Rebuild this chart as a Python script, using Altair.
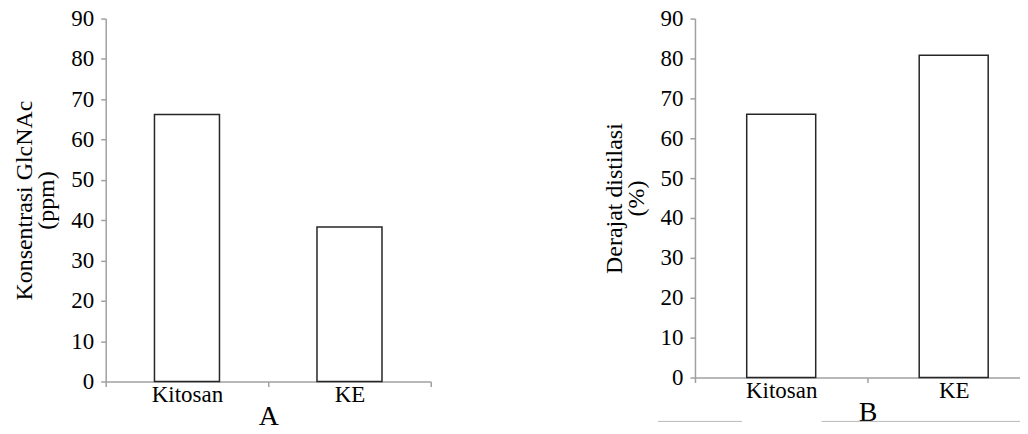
import altair as alt
import pandas as pd

categories = ["Kitosan", "KE"]
glcnac_ppm = [66.2, 38.3]
derajat_pct = [66.0, 80.8]
y_ticks = [0, 10, 20, 30, 40, 50, 60, 70, 80, 90]

FONT = "Liberation Serif"
AXIS_GRAY = "#a0a0a0"


def panel(values, ytitle, xtitle, w, h, extra_layers=None):
    df = pd.DataFrame({"kategori": categories, "nilai": values})
    bars = alt.Chart(df).mark_bar(
        fill="white", stroke="#262626", strokeWidth=1.5,
        width=alt.RelativeBandSize(0.4),
    ).encode(
        x=alt.X(
            "kategori:N", sort=categories,
            scale=alt.Scale(paddingInner=0, paddingOuter=0),
            axis=alt.Axis(
                title=xtitle, labelAngle=0, tickBand="extent",
                labelFont=FONT, titleFont=FONT,
                labelFontSize=23, labelPadding=-3, tickSize=5,
                titleFontSize=28, titlePadding=-4,
            ),
        ),
        y=alt.Y(
            "nilai:Q",
            scale=alt.Scale(domain=[0, 90], nice=False),
            axis=alt.Axis(
                title=ytitle, values=y_ticks, grid=False,
                labelFont=FONT, titleFont=FONT,
                labelFontSize=23, labelPadding=7, tickSize=5,
                titleFontSize=24, titleLineHeight=22, titlePadding=12,
            ),
        ),
    )
    layers = [bars] + (extra_layers or [])
    return alt.layer(*layers).properties(width=w, height=h)


one = pd.DataFrame({"a": [0]})
deco = [
    alt.Chart(one).mark_rule(color="#b8b8b8", strokeWidth=1).encode(
        x=alt.value(-37), x2=alt.value(47), y=alt.value(404)),
    alt.Chart(one).mark_rule(color="#b8b8b8", strokeWidth=1).encode(
        x=alt.value(127), x2=alt.value(346), y=alt.value(404)),
]

left = panel(glcnac_ppm, ["Konsentrasi GlcNAc", "(ppm)"], "A", 326, 364)
right = panel(derajat_pct, ["Derajat distilasi", "(%)"], "B", 346, 360, deco)

chart = alt.hconcat(left, right, spacing=171).configure_view(
    stroke=None
).configure_axis(
    labelFont=FONT, titleFont=FONT, labelColor="black", titleColor="black",
    titleFontWeight="normal", domainColor=AXIS_GRAY, tickColor=AXIS_GRAY,
    domainWidth=1.5, tickWidth=1.5,
).properties(background="white",
             padding={"left": 5, "top": -1, "right": -21, "bottom": -5})

chart.save("out.html", embed_options={"renderer": "svg", "actions": False})
